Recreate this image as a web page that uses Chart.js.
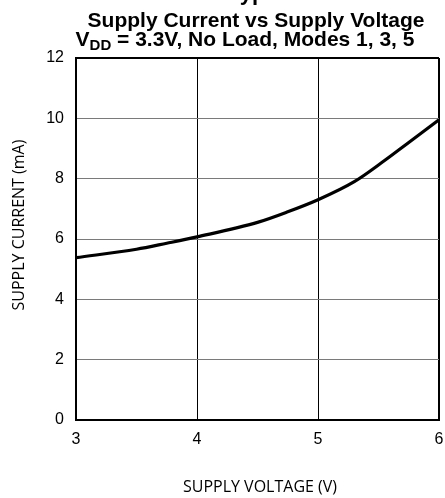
<!DOCTYPE html>
<html>
<head>
<meta charset="utf-8">
<script src="https://cdn.jsdelivr.net/npm/chart.js@4"></script>
<style>
  html, body { margin: 0; padding: 0; background: #fff; }
  #wrap { width: 445px; height: 498px; }
</style>
</head>
<body>
<div id="wrap"><canvas id="chart" width="445" height="498"></canvas></div>
<script>
// ===== DATA =====
const supplyVoltage = [3.0, 3.5, 3.75, 4.0, 4.5, 4.75, 5.0, 5.3, 5.55, 5.75, 6.0];
const supplyCurrent = [5.38, 5.66, 5.86, 6.07, 6.55, 6.9, 7.3, 7.9, 8.6, 9.2, 9.95];
const xTicks = [3, 4, 5, 6];
const yTicks = [0, 2, 4, 6, 8, 10, 12];

// titles + axis labels drawn by hand (subscript in V_DD)
const titlePlugin = {
  id: "titles",
  afterDraw(chart) {
    const c = chart.ctx;
    c.save();
    c.fillStyle = "#000";
    c.textBaseline = "alphabetic";

    // cut-off top heading
    c.font = "bold 22px 'Liberation Sans', Arial";
    c.textAlign = "left";
    c.fillText("Typical Curves", 228, 0);

    c.font = "bold 21px 'Liberation Sans', Arial";
    c.textAlign = "center";
    c.fillText("Supply Current vs Supply Voltage", 256, 27);

    // second line with subscript
    const cx = 245;
    const base = 46;
    c.font = "bold 21px 'Liberation Sans', Arial";
    const v = "V";
    const rest = " = 3.3V, No Load, Modes 1, 3, 5";
    const wV = c.measureText(v).width;
    const wRest = c.measureText(rest).width;
    c.font = "bold 15px 'Liberation Sans', Arial";
    const wSub = c.measureText("DD").width;
    let x = cx - (wV + wSub + wRest) / 2;
    c.textAlign = "left";
    c.font = "bold 21px 'Liberation Sans', Arial";
    c.fillText(v, x, base);
    x += wV;
    c.font = "bold 15px 'Liberation Sans', Arial";
    c.fillText("DD", x, base + 4);
    x += wSub;
    c.font = "bold 21px 'Liberation Sans', Arial";
    c.fillText(rest, x, base);

    // axis titles
    c.font = "16px 'Open Sans'";
    c.textAlign = "center";
    c.fillText("SUPPLY VOLTAGE (V)", 260, 492);
    c.translate(24, 225);
    c.rotate(-Math.PI / 2);
    c.fillText("SUPPLY CURRENT (mA)", 0, 0);
    c.restore();
  },
};

new Chart(document.getElementById("chart"), {
  type: "line",
  data: {
    datasets: [
      {
        data: supplyVoltage.map((v, i) => ({ x: v, y: supplyCurrent[i] })),
        borderColor: "#000",
        borderWidth: 3.2,
        pointRadius: 0,
        cubicInterpolationMode: "monotone",
        fill: false,
      },
    ],
  },
  options: {
    responsive: false,
    animation: false,
    layout: { padding: { top: 58, right: 6, left: 0, bottom: 0 } },
    plugins: {
      legend: { display: false },
      tooltip: { enabled: false },
    },
    scales: {
      x: {
        type: "linear",
        min: 3,
        max: 6,
        afterBuildTicks: (axis) => {
          axis.ticks = xTicks.map((v) => ({ value: v }));
        },
        afterFit: (axis) => {
          axis.height = 78;
          axis.paddingRight = 0;
          axis.paddingLeft = 0;
        },
        border: { display: true, color: "#000", width: 2 },
        grid: {
          drawTicks: false,
          color: "#000",
          lineWidth: (ctx) => (ctx.tick && ctx.tick.value === 6 ? 2 : 1),
        },
        ticks: {
          padding: 10,
          color: "#000",
          font: { family: "'Liberation Sans', Arial", size: 16 },
        },
      },
      y: {
        min: 0,
        max: 12,
        afterBuildTicks: (axis) => {
          axis.ticks = yTicks.map((v) => ({ value: v }));
        },
        afterFit: (axis) => {
          axis.width = 76;
        },
        border: { display: true, color: "#000", width: 2 },
        grid: {
          drawTicks: false,
          color: (ctx) => (ctx.tick && ctx.tick.value === 12 ? "#000" : "#7a7a7a"),
          lineWidth: (ctx) => (ctx.tick && ctx.tick.value === 12 ? 2 : 1),
        },
        ticks: {
          padding: 12,
          color: "#000",
          font: { family: "'Liberation Sans', Arial", size: 16 },
        },
      },
    },
  },
  plugins: [titlePlugin],
});
</script>
</body>
</html>
